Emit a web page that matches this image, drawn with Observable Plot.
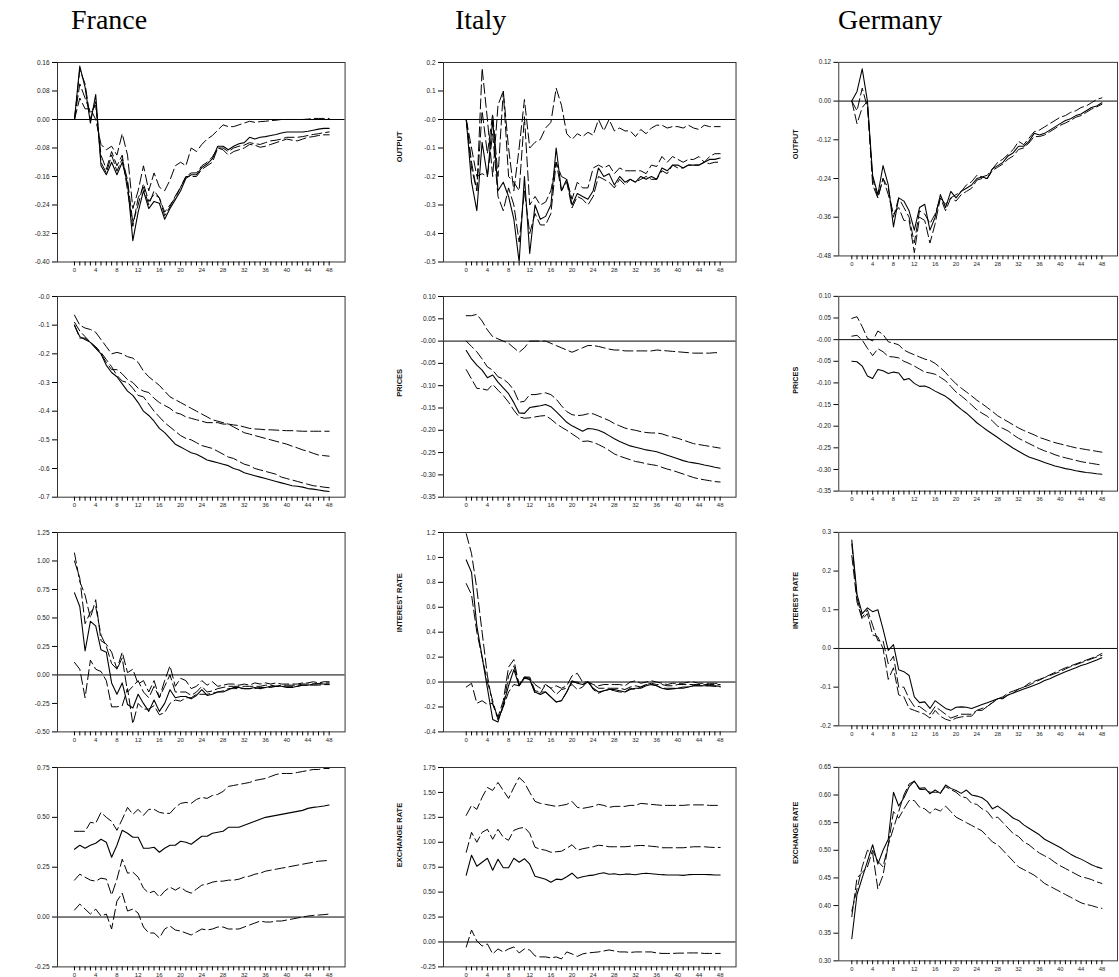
<!DOCTYPE html>
<html><head><meta charset="utf-8">
<script src="https://cdn.jsdelivr.net/npm/d3@7"></script>
<script src="https://cdn.jsdelivr.net/npm/@observablehq/plot@0.6"></script>
<style>
html,body{margin:0;padding:0;background:#fff;}
body{width:1119px;height:977px;position:relative;overflow:hidden;font-family:"Liberation Sans",Arial,sans-serif;}
.country{position:absolute;top:6px;font-family:"Liberation Serif","Times New Roman",serif;font-size:28px;line-height:28px;color:#000;white-space:nowrap;}
.panel{position:absolute;}
</style></head><body>
<div id="root"></div>
<script>
// ---------- categories / labels ----------
const countries = ["France", "Italy", "Germany"];
const variables = ["OUTPUT", "PRICES", "INTEREST RATE", "EXCHANGE RATE"];
const horizon = d3.range(0, 49); // months 0..48

// ---------- OUTPUT ----------
const frOutS  = [0,0.15,0.09,-0.01,0.07,-0.13,-0.155,-0.12,-0.155,-0.12, -0.18,-0.34,-0.26,-0.2,-0.25,-0.23,-0.235,-0.28,-0.25,-0.225, -0.2,-0.165,-0.155,-0.155,-0.135,-0.125,-0.11,-0.075,-0.075,-0.085, -0.075,-0.068,-0.065,-0.05,-0.055,-0.05,-0.048,-0.045,-0.042,-0.038, -0.035,-0.035,-0.035,-0.035,-0.033,-0.03,-0.027,-0.025,-0.025];
const frOutD1 = [0,0.06,0.03,0.03,0.0,-0.07,-0.085,-0.075,-0.1,-0.04, -0.1,-0.25,-0.2,-0.13,-0.2,-0.15,-0.19,-0.2,-0.17,-0.13, -0.12,-0.13,-0.08,-0.09,-0.07,-0.055,-0.045,-0.03,-0.015,-0.02, -0.02,-0.015,-0.01,-0.005,-0.008,-0.006,-0.005,-0.003,-0.002,0, 0,0,0,0,0.001,0.003,0.003,0.003,0.003];
const frOutD2 = [0,0.1,0.06,0.02,0.04,-0.1,-0.14,-0.09,-0.13,-0.1, -0.2,-0.3,-0.22,-0.19,-0.24,-0.2,-0.22,-0.26,-0.24,-0.22, -0.19,-0.16,-0.16,-0.16,-0.14,-0.13,-0.12,-0.08,-0.085,-0.1, -0.09,-0.085,-0.08,-0.07,-0.072,-0.078,-0.075,-0.07,-0.065,-0.06, -0.055,-0.058,-0.06,-0.055,-0.05,-0.048,-0.045,-0.043,-0.043];
const frOutD3 = [0,0.14,0.1,0.0,0.05,-0.12,-0.15,-0.1,-0.145,-0.11, -0.17,-0.29,-0.24,-0.18,-0.23,-0.21,-0.22,-0.27,-0.245,-0.215, -0.19,-0.16,-0.15,-0.15,-0.13,-0.12,-0.105,-0.08,-0.08,-0.09, -0.08,-0.075,-0.072,-0.065,-0.068,-0.07,-0.065,-0.06,-0.058,-0.055, -0.05,-0.05,-0.05,-0.048,-0.045,-0.042,-0.04,-0.037,-0.035];

const itOutS  = [0,-0.22,-0.32,-0.08,-0.2,0.0,-0.25,-0.22,-0.27,-0.35, -0.5,-0.2,-0.47,-0.3,-0.35,-0.34,-0.3,-0.1,-0.25,-0.21, -0.3,-0.26,-0.27,-0.28,-0.25,-0.17,-0.2,-0.19,-0.23,-0.2, -0.22,-0.21,-0.22,-0.2,-0.21,-0.2,-0.21,-0.17,-0.18,-0.16, -0.16,-0.17,-0.16,-0.16,-0.16,-0.15,-0.14,-0.14,-0.135];
const itOutD1 = [0,-0.15,-0.25,0.18,0.0,-0.2,0.05,0.1,-0.1,-0.25, -0.1,0.07,-0.1,-0.08,-0.07,-0.03,-0.01,0.11,0.05,-0.05, -0.07,-0.05,-0.06,-0.045,-0.055,0.0,-0.04,0.0,-0.04,-0.03, -0.04,-0.04,-0.06,-0.035,-0.05,-0.03,-0.02,-0.02,-0.03,-0.025, -0.025,-0.03,-0.02,-0.03,-0.035,-0.02,-0.025,-0.025,-0.025];
const itOutD2 = [0,-0.17,-0.25,0.03,-0.12,0.02,-0.2,0.1,-0.2,-0.22, -0.25,0.01,-0.3,-0.27,-0.3,-0.29,-0.25,-0.15,-0.2,-0.21, -0.28,-0.22,-0.24,-0.24,-0.17,-0.16,-0.17,-0.16,-0.19,-0.17, -0.18,-0.18,-0.18,-0.18,-0.19,-0.16,-0.165,-0.13,-0.15,-0.13, -0.14,-0.15,-0.14,-0.14,-0.13,-0.15,-0.13,-0.12,-0.12];
const itOutD3 = [0,-0.1,-0.2,-0.19,-0.2,-0.05,-0.27,-0.32,-0.24,-0.3, -0.43,-0.25,-0.4,-0.33,-0.37,-0.37,-0.33,-0.15,-0.25,-0.22, -0.31,-0.27,-0.28,-0.3,-0.27,-0.2,-0.21,-0.22,-0.24,-0.21, -0.23,-0.21,-0.22,-0.21,-0.2,-0.21,-0.21,-0.18,-0.19,-0.16, -0.17,-0.17,-0.16,-0.16,-0.16,-0.15,-0.155,-0.15,-0.15];

const deOutS  = [0,0.03,0.1,0.0,-0.23,-0.29,-0.2,-0.26,-0.39,-0.3, -0.31,-0.34,-0.4,-0.33,-0.32,-0.4,-0.36,-0.29,-0.33,-0.28, -0.3,-0.28,-0.27,-0.26,-0.24,-0.235,-0.24,-0.21,-0.2,-0.19, -0.17,-0.16,-0.14,-0.14,-0.125,-0.1,-0.105,-0.1,-0.09,-0.08, -0.07,-0.06,-0.055,-0.045,-0.04,-0.03,-0.02,-0.015,-0.005];
const deOutD1 = [0,-0.07,-0.02,0.0,-0.26,-0.3,-0.24,-0.29,-0.35,-0.33, -0.37,-0.37,-0.47,-0.36,-0.37,-0.44,-0.38,-0.3,-0.34,-0.3, -0.31,-0.29,-0.28,-0.27,-0.245,-0.24,-0.24,-0.215,-0.205,-0.195, -0.18,-0.17,-0.15,-0.145,-0.13,-0.11,-0.11,-0.105,-0.095,-0.085, -0.075,-0.068,-0.06,-0.05,-0.045,-0.035,-0.025,-0.018,-0.01];
const deOutD2 = [0,-0.03,0.04,-0.02,-0.24,-0.3,-0.24,-0.27,-0.36,-0.3, -0.33,-0.36,-0.44,-0.34,-0.35,-0.38,-0.35,-0.3,-0.32,-0.3, -0.29,-0.28,-0.26,-0.25,-0.23,-0.235,-0.23,-0.21,-0.19,-0.18, -0.165,-0.15,-0.125,-0.135,-0.115,-0.095,-0.09,-0.08,-0.07,-0.06, -0.05,-0.045,-0.035,-0.03,-0.02,-0.015,-0.005,0.005,0.01];

// ---------- PRICES ----------
const frPrS  = [-0.1,-0.14,-0.15,-0.16,-0.18,-0.2,-0.24,-0.265,-0.28,-0.305, -0.33,-0.345,-0.37,-0.4,-0.415,-0.435,-0.46,-0.475,-0.495,-0.515, -0.525,-0.535,-0.545,-0.55,-0.56,-0.57,-0.575,-0.58,-0.585,-0.59, -0.6,-0.605,-0.615,-0.62,-0.625,-0.63,-0.635,-0.64,-0.645,-0.65, -0.655,-0.66,-0.662,-0.665,-0.67,-0.672,-0.675,-0.678,-0.68];
const frPrD1 = [-0.065,-0.1,-0.11,-0.115,-0.125,-0.15,-0.175,-0.2,-0.195,-0.2, -0.21,-0.215,-0.23,-0.26,-0.28,-0.295,-0.31,-0.33,-0.35,-0.36, -0.37,-0.38,-0.39,-0.4,-0.41,-0.42,-0.43,-0.435,-0.44,-0.445, -0.448,-0.45,-0.455,-0.46,-0.462,-0.463,-0.465,-0.465,-0.466,-0.467, -0.468,-0.468,-0.469,-0.47,-0.47,-0.47,-0.47,-0.47,-0.47];
const frPrD2 = [-0.09,-0.12,-0.14,-0.16,-0.18,-0.2,-0.23,-0.255,-0.255,-0.27, -0.29,-0.3,-0.32,-0.33,-0.335,-0.355,-0.37,-0.38,-0.39,-0.405, -0.41,-0.42,-0.425,-0.43,-0.435,-0.44,-0.44,-0.44,-0.445,-0.445, -0.455,-0.465,-0.475,-0.48,-0.485,-0.49,-0.495,-0.5,-0.505,-0.51, -0.515,-0.522,-0.528,-0.535,-0.54,-0.547,-0.553,-0.555,-0.557];
const frPrD3 = [-0.1,-0.145,-0.145,-0.16,-0.175,-0.195,-0.22,-0.245,-0.275,-0.295, -0.3,-0.32,-0.345,-0.35,-0.375,-0.4,-0.42,-0.44,-0.455,-0.47, -0.485,-0.495,-0.5,-0.51,-0.52,-0.525,-0.53,-0.54,-0.55,-0.56, -0.565,-0.575,-0.585,-0.59,-0.6,-0.605,-0.61,-0.615,-0.62,-0.63, -0.635,-0.64,-0.645,-0.65,-0.655,-0.66,-0.662,-0.665,-0.667];

const itPrD1 = [0.057,0.057,0.06,0.045,0.025,0.01,0.005,0.0,-0.005,-0.015, -0.025,-0.015,0.0,0.0,0.0,0.0,-0.005,-0.01,-0.015,-0.02, -0.025,-0.02,-0.015,-0.01,-0.01,-0.012,-0.015,-0.018,-0.02,-0.02, -0.022,-0.022,-0.022,-0.022,-0.022,-0.022,-0.02,-0.021,-0.022,-0.023, -0.024,-0.025,-0.026,-0.027,-0.027,-0.027,-0.027,-0.026,-0.026];
const itPrD2 = [0,-0.012,-0.024,-0.04,-0.058,-0.065,-0.08,-0.085,-0.095,-0.11, -0.137,-0.135,-0.12,-0.12,-0.118,-0.116,-0.12,-0.13,-0.145,-0.158, -0.165,-0.167,-0.166,-0.163,-0.163,-0.168,-0.173,-0.178,-0.185,-0.19, -0.195,-0.198,-0.2,-0.203,-0.205,-0.206,-0.206,-0.208,-0.212,-0.215, -0.218,-0.222,-0.226,-0.23,-0.232,-0.234,-0.236,-0.238,-0.24];
const itPrS  = [-0.021,-0.04,-0.054,-0.065,-0.082,-0.076,-0.092,-0.105,-0.118,-0.138, -0.161,-0.162,-0.149,-0.147,-0.145,-0.142,-0.147,-0.158,-0.17,-0.182, -0.19,-0.196,-0.202,-0.196,-0.197,-0.2,-0.205,-0.212,-0.219,-0.225, -0.23,-0.235,-0.238,-0.241,-0.244,-0.246,-0.248,-0.252,-0.256,-0.26, -0.264,-0.268,-0.271,-0.273,-0.275,-0.278,-0.28,-0.283,-0.285];
const itPrD3 = [-0.064,-0.085,-0.106,-0.107,-0.11,-0.097,-0.11,-0.122,-0.137,-0.155, -0.17,-0.173,-0.172,-0.17,-0.168,-0.167,-0.175,-0.185,-0.193,-0.2, -0.208,-0.216,-0.225,-0.224,-0.227,-0.232,-0.238,-0.245,-0.253,-0.258, -0.262,-0.266,-0.27,-0.272,-0.275,-0.277,-0.279,-0.283,-0.287,-0.29, -0.294,-0.298,-0.302,-0.306,-0.309,-0.311,-0.313,-0.315,-0.316];

const dePrD1 = [0.049,0.053,0.03,0.003,-0.003,0.02,0.012,-0.005,-0.008,-0.012, -0.024,-0.03,-0.035,-0.04,-0.045,-0.048,-0.055,-0.065,-0.076,-0.09, -0.102,-0.112,-0.121,-0.13,-0.14,-0.148,-0.157,-0.166,-0.176,-0.183, -0.19,-0.197,-0.204,-0.21,-0.215,-0.22,-0.226,-0.23,-0.234,-0.238, -0.241,-0.244,-0.247,-0.25,-0.252,-0.254,-0.256,-0.258,-0.26];
const dePrD2 = [0.008,0.01,-0.001,-0.02,-0.037,-0.021,-0.028,-0.039,-0.04,-0.042, -0.05,-0.055,-0.061,-0.068,-0.075,-0.077,-0.08,-0.087,-0.095,-0.108, -0.121,-0.13,-0.14,-0.151,-0.162,-0.17,-0.177,-0.188,-0.2,-0.205, -0.211,-0.22,-0.228,-0.234,-0.24,-0.246,-0.252,-0.257,-0.261,-0.266, -0.27,-0.273,-0.276,-0.279,-0.282,-0.284,-0.286,-0.288,-0.29];
const dePrS  = [-0.05,-0.051,-0.061,-0.084,-0.09,-0.069,-0.072,-0.078,-0.075,-0.077, -0.093,-0.09,-0.101,-0.108,-0.107,-0.112,-0.119,-0.125,-0.131,-0.14, -0.151,-0.161,-0.17,-0.181,-0.192,-0.201,-0.21,-0.218,-0.226,-0.235, -0.243,-0.251,-0.258,-0.265,-0.271,-0.275,-0.279,-0.284,-0.288,-0.292, -0.295,-0.298,-0.3,-0.303,-0.305,-0.307,-0.308,-0.31,-0.311];

// ---------- INTEREST RATE ----------
const frIrS  = [0.72,0.6,0.21,0.47,0.43,0.22,0.2,-0.07,-0.17,-0.07, -0.26,-0.29,-0.17,-0.25,-0.32,-0.22,-0.32,-0.25,-0.13,-0.2, -0.19,-0.19,-0.21,-0.18,-0.13,-0.18,-0.17,-0.15,-0.15,-0.13, -0.11,-0.11,-0.12,-0.12,-0.11,-0.12,-0.11,-0.1,-0.1,-0.1, -0.11,-0.11,-0.1,-0.09,-0.09,-0.08,-0.08,-0.08,-0.08];
const frIrD1 = [1.07,0.82,0.7,0.5,0.66,0.3,0.27,0.2,0.05,0.2, 0.02,0.05,-0.08,-0.05,-0.15,-0.05,-0.2,-0.05,0.08,-0.1, -0.03,-0.05,-0.12,-0.1,-0.05,-0.09,-0.06,-0.1,-0.09,-0.08, -0.08,-0.09,-0.08,-0.09,-0.07,-0.08,-0.07,-0.08,-0.07,-0.08, -0.08,-0.08,-0.08,-0.07,-0.07,-0.06,-0.07,-0.06,-0.06];
const frIrD2 = [1.0,0.85,0.45,0.55,0.6,0.35,0.25,0.1,0.05,0.15, -0.15,-0.1,-0.05,-0.15,-0.2,-0.1,-0.2,-0.1,0.0,-0.15, -0.15,-0.15,-0.18,-0.15,-0.1,-0.15,-0.14,-0.12,-0.11,-0.1, -0.1,-0.1,-0.1,-0.1,-0.1,-0.1,-0.09,-0.09,-0.1,-0.09, -0.09,-0.09,-0.09,-0.08,-0.08,-0.08,-0.075,-0.07,-0.07];
const frIrD3 = [0.11,0.05,-0.2,0.13,0.05,0.03,-0.05,-0.28,-0.28,-0.27, -0.12,-0.43,-0.25,-0.3,-0.3,-0.27,-0.35,-0.33,-0.25,-0.22, -0.23,-0.2,-0.2,-0.17,-0.17,-0.17,-0.16,-0.15,-0.14,-0.12, -0.12,-0.12,-0.12,-0.12,-0.12,-0.11,-0.11,-0.11,-0.1,-0.1, -0.1,-0.1,-0.1,-0.09,-0.09,-0.09,-0.09,-0.085,-0.085];

const itIrD1 = [1.19,1.03,0.75,0.4,0.05,-0.18,-0.28,-0.15,0.12,0.18, -0.03,0.04,0.03,-0.02,-0.05,-0.02,-0.05,-0.03,-0.05,-0.03, 0.05,0.07,0.0,0.0,-0.02,-0.03,-0.02,-0.02,-0.02,-0.02, -0.03,0.0,0.01,-0.01,0.0,0.01,0.0,-0.01,-0.02,-0.01, -0.01,-0.01,0.0,0.0,-0.01,-0.01,-0.01,-0.01,-0.01];
const itIrD2 = [0.79,0.7,0.4,0.2,0.0,-0.15,-0.3,-0.2,0.05,0.13, -0.02,0.04,0.04,-0.07,-0.08,-0.08,-0.12,-0.16,-0.15,-0.08, 0.0,0.0,-0.02,0.0,-0.02,-0.05,-0.05,-0.05,-0.05,-0.05, -0.06,-0.04,-0.03,-0.04,-0.02,-0.01,-0.02,-0.02,-0.03,-0.03, -0.02,-0.02,-0.02,-0.02,-0.02,-0.02,-0.02,-0.02,-0.02];
const itIrS  = [0.98,0.88,0.45,0.2,-0.05,-0.3,-0.32,-0.18,-0.03,0.1, -0.03,0.03,0.02,-0.08,-0.1,-0.08,-0.12,-0.16,-0.15,-0.08, 0.01,-0.01,-0.02,0.0,-0.05,-0.08,-0.07,-0.06,-0.06,-0.07, -0.08,-0.06,-0.05,-0.05,-0.03,-0.02,-0.03,-0.05,-0.06,-0.055, -0.05,-0.05,-0.04,-0.03,-0.03,-0.03,-0.03,-0.03,-0.035];
const itIrD3 = [-0.04,-0.01,-0.17,-0.15,-0.18,-0.17,-0.3,-0.2,-0.08,-0.02, -0.03,0.04,0.02,-0.09,-0.09,-0.02,-0.05,-0.1,-0.06,-0.05, -0.02,-0.06,-0.04,0.01,-0.06,-0.09,-0.07,-0.06,-0.07,-0.08, -0.08,-0.05,-0.06,-0.04,-0.02,-0.02,-0.03,-0.05,-0.05,-0.05, -0.05,-0.04,-0.04,-0.03,-0.03,-0.03,-0.03,-0.035,-0.04];

const deIrS  = [0.28,0.14,0.09,0.105,0.095,0.1,0.05,-0.005,0.01,-0.055, -0.06,-0.07,-0.125,-0.14,-0.138,-0.155,-0.135,-0.145,-0.155,-0.16, -0.152,-0.151,-0.152,-0.155,-0.15,-0.145,-0.14,-0.135,-0.13,-0.128, -0.12,-0.115,-0.11,-0.105,-0.1,-0.095,-0.09,-0.083,-0.078,-0.072, -0.066,-0.06,-0.055,-0.05,-0.044,-0.04,-0.035,-0.03,-0.024];
const deIrD1 = [0.27,0.13,0.08,0.1,0.06,0.02,0.02,-0.04,-0.02,-0.1, -0.1,-0.13,-0.15,-0.15,-0.16,-0.17,-0.15,-0.16,-0.17,-0.18, -0.175,-0.17,-0.17,-0.17,-0.16,-0.155,-0.15,-0.14,-0.13,-0.125, -0.115,-0.11,-0.105,-0.1,-0.09,-0.085,-0.08,-0.075,-0.068,-0.062, -0.056,-0.05,-0.045,-0.04,-0.035,-0.03,-0.025,-0.02,-0.013];
const deIrD2 = [0.24,0.12,0.075,0.09,0.035,0.03,0.0,-0.08,-0.05,-0.12, -0.125,-0.155,-0.16,-0.165,-0.17,-0.18,-0.16,-0.175,-0.183,-0.187, -0.18,-0.177,-0.175,-0.175,-0.16,-0.16,-0.15,-0.14,-0.13,-0.13, -0.12,-0.115,-0.105,-0.1,-0.095,-0.088,-0.082,-0.075,-0.07,-0.065, -0.06,-0.053,-0.047,-0.042,-0.037,-0.032,-0.027,-0.022,-0.018];

// ---------- EXCHANGE RATE ----------
const frExD1 = [0.43,0.43,0.43,0.475,0.47,0.525,0.5,0.48,0.435,0.49, 0.55,0.515,0.54,0.51,0.54,0.54,0.525,0.52,0.52,0.55, 0.57,0.575,0.57,0.59,0.6,0.595,0.61,0.615,0.63,0.655, 0.66,0.665,0.67,0.675,0.685,0.69,0.695,0.705,0.715,0.72, 0.72,0.72,0.725,0.73,0.735,0.74,0.74,0.745,0.745];
const frExS  = [0.34,0.36,0.345,0.36,0.37,0.39,0.375,0.3,0.36,0.435, 0.42,0.4,0.4,0.345,0.345,0.35,0.325,0.345,0.36,0.36, 0.38,0.375,0.365,0.385,0.405,0.405,0.42,0.425,0.43,0.45, 0.45,0.45,0.46,0.47,0.48,0.49,0.5,0.505,0.51,0.515, 0.52,0.525,0.53,0.535,0.545,0.55,0.553,0.557,0.562];
const frExD2 = [0.185,0.215,0.2,0.185,0.18,0.195,0.19,0.11,0.19,0.29, 0.22,0.225,0.2,0.145,0.12,0.13,0.1,0.13,0.15,0.135, 0.15,0.13,0.12,0.14,0.16,0.165,0.175,0.18,0.18,0.185, 0.185,0.19,0.2,0.205,0.215,0.22,0.23,0.235,0.24,0.245, 0.25,0.255,0.26,0.265,0.27,0.275,0.28,0.282,0.285];
const frExD3 = [0.035,0.065,0.04,0.015,0.04,0.005,0.015,-0.06,0.08,0.12, 0.03,0.04,0.02,-0.05,-0.08,-0.08,-0.105,-0.06,-0.045,-0.065, -0.07,-0.08,-0.09,-0.075,-0.06,-0.065,-0.06,-0.05,-0.05,-0.06, -0.06,-0.06,-0.05,-0.04,-0.03,-0.02,-0.025,-0.025,-0.02,-0.02, -0.015,-0.01,-0.005,0.0,0.005,0.008,0.01,0.012,0.015];

const itExD1 = [1.27,1.37,1.33,1.45,1.55,1.52,1.6,1.52,1.44,1.55, 1.65,1.6,1.5,1.41,1.39,1.38,1.37,1.36,1.37,1.38, 1.41,1.35,1.34,1.35,1.36,1.38,1.37,1.35,1.36,1.36, 1.36,1.37,1.37,1.39,1.385,1.38,1.375,1.37,1.37,1.37, 1.37,1.37,1.375,1.375,1.375,1.375,1.37,1.37,1.37];
const itExD2 = [0.9,1.1,1.0,1.1,1.13,1.03,1.13,1.05,1.02,1.12, 1.14,1.15,1.09,0.95,0.93,0.92,0.9,0.905,0.91,0.94, 0.975,0.92,0.935,0.945,0.955,0.97,0.965,0.955,0.955,0.955, 0.955,0.96,0.965,0.968,0.965,0.96,0.955,0.945,0.945,0.945, 0.945,0.945,0.95,0.955,0.955,0.955,0.95,0.948,0.948];
const itExS  = [0.67,0.87,0.76,0.8,0.84,0.72,0.83,0.745,0.745,0.84, 0.8,0.835,0.78,0.66,0.645,0.63,0.6,0.63,0.625,0.655, 0.69,0.64,0.655,0.665,0.67,0.685,0.695,0.68,0.685,0.675, 0.68,0.68,0.675,0.685,0.69,0.685,0.68,0.675,0.672,0.672, 0.672,0.668,0.675,0.677,0.677,0.677,0.675,0.672,0.672];
const itExD3 = [-0.05,0.12,0.01,-0.04,-0.02,-0.12,-0.07,-0.1,-0.07,-0.05, -0.11,-0.07,-0.08,-0.14,-0.15,-0.15,-0.16,-0.15,-0.17,-0.1, -0.12,-0.145,-0.12,-0.11,-0.105,-0.1,-0.09,-0.08,-0.09,-0.1, -0.1,-0.105,-0.1,-0.1,-0.1,-0.1,-0.11,-0.115,-0.115,-0.115, -0.112,-0.112,-0.11,-0.11,-0.11,-0.115,-0.115,-0.115,-0.115];

const deExS  = [0.34,0.42,0.45,0.48,0.51,0.475,0.5,0.52,0.605,0.58, 0.595,0.615,0.625,0.612,0.613,0.602,0.609,0.603,0.618,0.612, 0.608,0.603,0.609,0.6,0.598,0.595,0.588,0.575,0.58,0.573, 0.566,0.558,0.554,0.546,0.54,0.534,0.528,0.52,0.515,0.51, 0.505,0.499,0.493,0.488,0.484,0.479,0.474,0.47,0.467];
const deExD1 = [0.38,0.45,0.46,0.47,0.5,0.48,0.47,0.51,0.54,0.57, 0.6,0.62,0.625,0.61,0.61,0.605,0.605,0.605,0.615,0.61, 0.605,0.597,0.595,0.585,0.583,0.575,0.57,0.558,0.56,0.55, 0.54,0.53,0.525,0.515,0.51,0.502,0.495,0.49,0.485,0.478, 0.472,0.467,0.462,0.457,0.452,0.45,0.447,0.443,0.44];
const deExD2 = [0.39,0.43,0.47,0.5,0.495,0.43,0.455,0.51,0.57,0.558, 0.575,0.59,0.59,0.578,0.575,0.567,0.575,0.571,0.58,0.57, 0.56,0.555,0.55,0.545,0.54,0.535,0.525,0.515,0.51,0.5, 0.49,0.48,0.47,0.465,0.46,0.455,0.448,0.44,0.435,0.43, 0.425,0.42,0.415,0.41,0.405,0.402,0.4,0.397,0.395];

// ---------- y ticks (values and printed labels) ----------
const frOutTicks = [0.16,0.08,0,-0.08,-0.16,-0.24,-0.32,-0.40];
const frOutLabels = ["0.16","0.08","0.00","-0.08","-0.16","-0.24","-0.32","-0.40"];
const itOutTicks = [0.2,0.1,0,-0.1,-0.2,-0.3,-0.4,-0.5];
const itOutLabels = ["0.2","0.1","-0.0","-0.1","-0.2","-0.3","-0.4","-0.5"];
const deOutTicks = [0.12,0,-0.12,-0.24,-0.36,-0.48];
const deOutLabels = ["0.12","0.00","-0.12","-0.24","-0.36","-0.48"];
const frPrTicks = [0,-0.1,-0.2,-0.3,-0.4,-0.5,-0.6,-0.7];
const frPrLabels = ["-0.0","-0.1","-0.2","-0.3","-0.4","-0.5","-0.6","-0.7"];
const itPrTicks = [0.1,0.05,0,-0.05,-0.1,-0.15,-0.2,-0.25,-0.3,-0.35];
const itPrLabels = ["0.10","0.05","-0.00","-0.05","-0.10","-0.15","-0.20","-0.25","-0.30","-0.35"];
const dePrTicks = itPrTicks;
const dePrLabels = itPrLabels;
const frIrTicks = [1.25,1.0,0.75,0.5,0.25,0,-0.25,-0.5];
const frIrLabels = ["1.25","1.00","0.75","0.50","0.25","0.00","-0.25","-0.50"];
const itIrTicks = [1.2,1.0,0.8,0.6,0.4,0.2,0,-0.2,-0.4];
const itIrLabels = ["1.2","1.0","0.8","0.6","0.4","0.2","0.0","-0.2","-0.4"];
const deIrTicks = [0.3,0.2,0.1,0,-0.1,-0.2];
const deIrLabels = ["0.3","0.2","0.1","0.0","-0.1","-0.2"];
const frExTicks = [0.75,0.5,0.25,0,-0.25];
const frExLabels = ["0.75","0.50","0.25","0.00","-0.25"];
const itExTicks = [1.75,1.5,1.25,1.0,0.75,0.5,0.25,0,-0.25];
const itExLabels = ["1.75","1.50","1.25","1.00","0.75","0.50","0.25","0.00","-0.25"];
const deExTicks = [0.65,0.6,0.55,0.5,0.45,0.4,0.35,0.3];
const deExLabels = ["0.65","0.60","0.55","0.50","0.45","0.40","0.35","0.30"];

// ---------- panel table built from the arrays ----------
const panels = [
  [ {domain:[-0.40,0.16], ticks:frOutTicks, labels:frOutLabels, solid:[frOutS], dashed:[frOutD1,frOutD2,frOutD3]},
    {domain:[-0.5,0.2],   ticks:itOutTicks, labels:itOutLabels, solid:[itOutS], dashed:[itOutD1,itOutD2,itOutD3]},
    {domain:[-0.48,0.12], ticks:deOutTicks, labels:deOutLabels, solid:[deOutS], dashed:[deOutD1,deOutD2]} ],
  [ {domain:[-0.7,0.0],   ticks:frPrTicks, labels:frPrLabels, solid:[frPrS], dashed:[frPrD1,frPrD2,frPrD3]},
    {domain:[-0.35,0.10], ticks:itPrTicks, labels:itPrLabels, solid:[itPrS], dashed:[itPrD1,itPrD2,itPrD3]},
    {domain:[-0.35,0.10], ticks:dePrTicks, labels:dePrLabels, solid:[dePrS], dashed:[dePrD1,dePrD2]} ],
  [ {domain:[-0.5,1.25],  ticks:frIrTicks, labels:frIrLabels, solid:[frIrS], dashed:[frIrD1,frIrD2,frIrD3]},
    {domain:[-0.4,1.2],   ticks:itIrTicks, labels:itIrLabels, solid:[itIrS], dashed:[itIrD1,itIrD2,itIrD3]},
    {domain:[-0.2,0.3],   ticks:deIrTicks, labels:deIrLabels, solid:[deIrS], dashed:[deIrD1,deIrD2]} ],
  [ {domain:[-0.25,0.75], ticks:frExTicks, labels:frExLabels, solid:[frExS], dashed:[frExD1,frExD2,frExD3]},
    {domain:[-0.25,1.75], ticks:itExTicks, labels:itExLabels, solid:[itExS], dashed:[itExD1,itExD2,itExD3]},
    {domain:[0.30,0.65],  ticks:deExTicks, labels:deExLabels, solid:[deExS], dashed:[deExD1,deExD2]} ]
];

// ---------- layout ----------
const columns = [
  {frameLeft: 57.3, xMin: -3.2, ppu: 5.306, titleLeft: 71, showVarTitle: false},
  {frameLeft: 443.3, xMin: -4.3, ppu: 5.29, titleLeft: 455, showVarTitle: true},
  {frameLeft: 840, xMin: -2.5, ppu: 5.37, titleLeft: 838, showVarTitle: true}
];
const rows = [
  {top: 62.3, h: 199.5},
  {top: 296, h: 200.7},
  {top: 532.3, h: 199.4},
  {top: 767.3, h: 199.4}
];
const xMax = 51;
const root = document.getElementById("root");

countries.forEach((c, j) => {
  const d = document.createElement("div");
  d.className = "country";
  d.style.left = columns[j].titleLeft + "px";
  d.textContent = c;
  root.appendChild(d);
});

function drawPanel(p, col, row) {
  const C = columns[col], R = rows[row];
  const mL = 58, mR = 2, mT = 4, mB = 18;
  const fw = (xMax - C.xMin) * C.ppu;
  const labelOf = new Map(p.ticks.map((t, i) => [t, p.labels[i]]));
  const marks = [];
  if (p.domain[0] < 0 && p.domain[1] >= 0) marks.push(Plot.ruleY([0], {stroke: "#000", strokeWidth: 1}));
  p.dashed.forEach(vals => marks.push(Plot.line(vals, {
    x: (d, i) => horizon[i], y: d => d, stroke: "#000", strokeWidth: 1,
    strokeDasharray: "10,4", clip: true
  })));
  p.solid.forEach(vals => marks.push(Plot.line(vals, {
    x: (d, i) => horizon[i], y: d => d, stroke: "#000", strokeWidth: 1.1, clip: true
  })));
  marks.push(Plot.frame({stroke: "#333", strokeWidth: 1}));
  marks.push(Plot.axisY(p.ticks, {tickSize: 5, tickPadding: 3, tickFormat: d => labelOf.get(d), fontSize: 6.5, label: null, fill: "#222"}));
  marks.push(Plot.axisX(horizon, {tickSize: 4, tickPadding: 2, tickFormat: d => (d % 4 === 0 ? String(d) : ""), fontSize: 6, label: null, fill: "#222"}));
  if (C.showVarTitle) {
    marks.push(Plot.text([variables[row]], {frameAnchor: "left", dx: -44, rotate: -90, fontWeight: "bold", fontSize: 7.5, text: d => d, fill: "#111"}));
  }
  const svg = Plot.plot({
    width: fw + mL + mR,
    height: R.h + mT + mB,
    marginLeft: mL, marginRight: mR, marginTop: mT, marginBottom: mB,
    x: {domain: [C.xMin, xMax]},
    y: {domain: p.domain},
    style: {fontFamily: '"Liberation Sans", Arial, sans-serif', background: "transparent", overflow: "visible"},
    marks
  });
  const wrap = document.createElement("div");
  wrap.className = "panel";
  wrap.style.left = (C.frameLeft - mL) + "px";
  wrap.style.top = (R.top - mT) + "px";
  wrap.appendChild(svg);
  root.appendChild(wrap);
}

panels.forEach((rowPanels, r) => rowPanels.forEach((p, c) => drawPanel(p, c, r)));
</script>
</body></html>
